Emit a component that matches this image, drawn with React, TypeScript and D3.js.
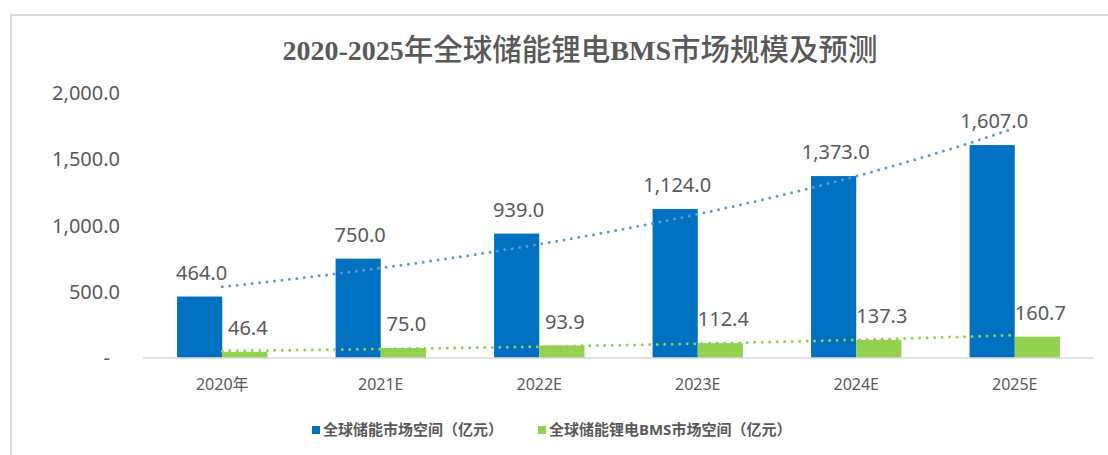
import React from "react";
import * as d3 from "d3";

const categories = ["2020年", "2021E", "2022E", "2023E", "2024E", "2025E"];
const marketValues = [464.0, 750.0, 939.0, 1124.0, 1373.0, 1607.0];
const bmsValues = [46.4, 75.0, 93.9, 112.4, 137.3, 160.7];
const yTicks = [0, 500, 1000, 1500, 2000];
const seriesNames = ["全球储能市场空间（亿元）", "全球储能锂电BMS市场空间（亿元）"];
const titleParts: [string, boolean][] = [
  ["2020-2025", true],
  ["年全球储能锂电", false],
  ["BMS", true],
  ["市场规模及预测", false],
];

const W = 1108;
const H = 455;
const BLUE = "#0070C0";
const GREEN = "#92D050";
const BLUE_TREND = "#5B9BD5";
const TEXT = "#595959";

// Excel-style exponential trendline: y = a * e^(b x), x = 1..n
function expFit(vals: number[]) {
  const xs = vals.map((_, i) => i + 1);
  const ls = vals.map((v) => Math.log(v));
  const mx = d3.mean(xs)!;
  const ml = d3.mean(ls)!;
  let num = 0;
  let den = 0;
  xs.forEach((x, i) => {
    num += (x - mx) * (ls[i] - ml);
    den += (x - mx) * (x - mx);
  });
  const b = num / den;
  const lnA = ml - b * mx;
  return (x: number) => Math.exp(lnA + b * x);
}

export default function App() {
  const left = 143;
  const right = 1094;
  const x0 = d3
    .scaleBand<string>()
    .domain(categories)
    .range([left, right])
    .paddingInner(0.43)
    .paddingOuter(0.215);
  const x1 = d3
    .scaleBand<string>()
    .domain(["m", "b"])
    .range([0, x0.bandwidth()]);
  const y = d3.scaleLinear().domain([0, 2000]).range([358, 93]);

  const step = x0.step();
  const center = (i: number) => left + step * (i + 0.5);
  const xIdx = d3.scaleLinear().domain([1, categories.length]).range([center(0), center(categories.length - 1)]);

  const trendLine = (vals: number[]) => {
    const f = expFit(vals);
    const pts = d3.range(1, categories.length + 0.001, 0.05).map((t) => [xIdx(t), y(f(t))] as [number, number]);
    return d3.line()(pts) || "";
  };

  const fmt = d3.format(",.1f");

  return (
    <svg
      width={W}
      height={H}
      style={{ position: "absolute", left: 0, top: 0, background: "#fff" }}
      fontFamily="'Noto Sans', 'Noto Sans CJK SC', sans-serif"
    >
      <rect x={0} y={0} width={W} height={H} fill="#fff" />
      {/* frame */}
      <path d={`M11,${H + 5} V15 H${W + 5}`} fill="none" stroke="#d9d9d9" strokeWidth={2} />

      {/* title */}
      <text x={580} y={60} textAnchor="middle" fill={TEXT}>
        {titleParts.map(([t, latin], i) => (
          <tspan
            key={i}
            fontFamily={latin ? "'Liberation Serif', serif" : "'Noto Sans CJK SC', sans-serif"}
            fontWeight={latin ? 700 : 500}
            fontSize={latin ? 28 : 29.5}
          >
            {t}
          </tspan>
        ))}
      </text>

      {/* y ticks */}
      {yTicks.map((t) => (
        <text
          key={t}
          x={t === 0 ? 110 : 120}
          y={y(t)}
          dy="0.35em"
          textAnchor="end"
          fill={TEXT}
          fontSize={20}
        >
          {t === 0 ? "-" : fmt(t)}
        </text>
      ))}

      {/* bars */}
      {categories.map((c, i) => {
        const gx = x0(c)!;
        return (
          <g key={c}>
            <rect
              x={gx + x1("m")!}
              y={y(marketValues[i])}
              width={x1.bandwidth()}
              height={y(0) - y(marketValues[i])}
              fill={BLUE}
            />
            <rect
              x={gx + x1("b")!}
              y={y(bmsValues[i])}
              width={x1.bandwidth()}
              height={y(0) - y(bmsValues[i])}
              fill={GREEN}
            />
          </g>
        );
      })}

      {/* axis line */}
      <line x1={left} x2={right} y1={y(0)} y2={y(0)} stroke="#d9d9d9" strokeWidth={1.5} />

      {/* trendlines */}
      <path
        d={trendLine(marketValues)}
        fill="none"
        stroke={BLUE_TREND}
        strokeWidth={3}
        strokeDasharray="0 7.5"
        strokeLinecap="round"
      />
      <path
        d={trendLine(bmsValues)}
        fill="none"
        stroke={GREEN}
        strokeWidth={3}
        strokeDasharray="0 7.5"
        strokeLinecap="round"
      />

      {/* data labels */}
      {categories.map((c, i) => {
        const gx = x0(c)!;
        return (
          <g key={"l" + c} fill={TEXT} fontSize={20} textAnchor="middle">
            <text x={gx + x1("m")! + x1.bandwidth() / 2 + 2} y={y(marketValues[i]) - 24} dy="0.35em">
              {fmt(marketValues[i])}
            </text>
            <text x={gx + x1("b")! + x1.bandwidth() / 2 + 3} y={y(bmsValues[i]) - 24} dy="0.35em">
              {fmt(bmsValues[i])}
            </text>
          </g>
        );
      })}

      {/* x labels */}
      {categories.map((c, i) => (
        <text key={"x" + c} x={center(i)} y={384} dy="0.35em" textAnchor="middle" fill={TEXT} fontSize={16}>
          {c}
        </text>
      ))}

      {/* legend */}
      <g fontSize={15} fontWeight={700} fill={TEXT}>
        <rect x={312} y={426} width={8} height={8} fill={BLUE} />
        <text x={323} y={430} dy="0.35em">
          {seriesNames[0]}
        </text>
        <rect x={538} y={426} width={8} height={8} fill={GREEN} />
        <text x={549} y={430} dy="0.35em">
          {seriesNames[1]}
        </text>
      </g>
    </svg>
  );
}
